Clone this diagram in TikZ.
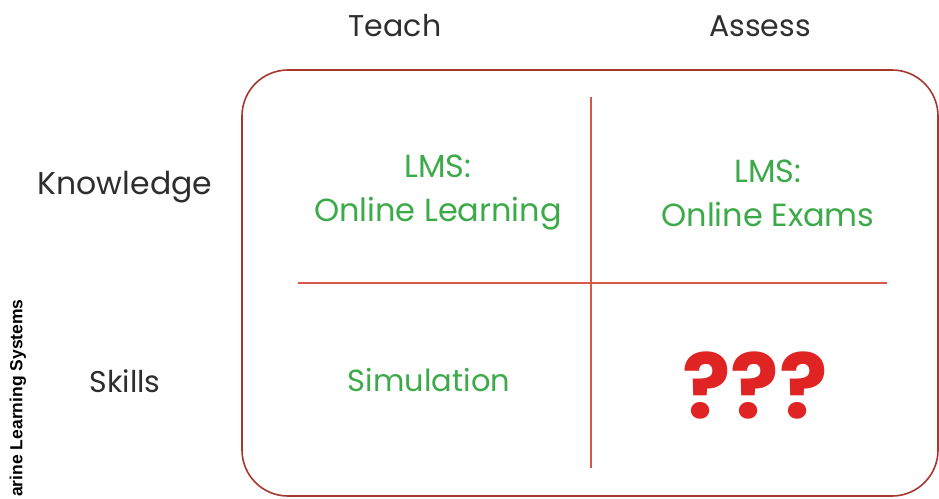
\documentclass[tikz,border=0pt]{standalone}
\usepackage{fontspec}
\setmainfont{Poppins}
\newfontfamily\sidefont{Liberation Sans}
\definecolor{boxred}{HTML}{A8372E}
\definecolor{linered}{HTML}{D8584C}
\definecolor{cellgreen}{HTML}{3DAA4A}
\definecolor{qred}{HTML}{E02424}
\definecolor{headgray}{HTML}{2E2E2E}
\tikzset{
  head/.style={text=headgray, font=\fontsize{30}{34}\selectfont, inner sep=0pt},
  cell/.style={text=cellgreen, font=\fontsize{32}{44}\selectfont, align=center, inner sep=0pt},
  divider/.style={linered, line width=1.3pt},
}
\begin{document}
\begin{tikzpicture}[x=1pt,y=-1pt]
\useasboundingbox (0,0) rectangle (939,498);
\draw[boxred, line width=1.6pt, rounded corners=46pt] (242,70) rectangle (938,496);
\coordinate (vt) at (591,97);
\coordinate (vb) at (591,468);
\coordinate (hl) at (298,283);
\coordinate (hr) at (887,283);
\draw[divider] (vt) -- (vb);
\draw[divider] (hl) -- (hr);
\node[head] (teach) at (395,26) {Teach};
\node[head] (assess) at (760,26) {Assess};
\node[head, font=\fontsize{31.5}{34}\selectfont] (know) at (125,187) {Knowledge};
\node[head] (skills) at (125,381) {Skills};
\node[cell] (c11) at (438,193) {LMS:\\Online Learning};
\node[cell] (c12) at (768,193) {LMS:\\Online Exams};
\node[cell, font=\fontsize{30.5}{40}\selectfont] (c21) at (429,380) {Simulation};
\node[text=qred, font=\fontsize{90}{90}\selectfont\bfseries, inner sep=0pt] (c22) at (755,386) {???};
\node[rotate=90, anchor=west, font=\sidefont\bfseries\fontsize{17.5}{18}\selectfont, text=black, inner sep=0pt] (side) at (18,497) {arine Learning Systems};
\end{tikzpicture}
\end{document}
